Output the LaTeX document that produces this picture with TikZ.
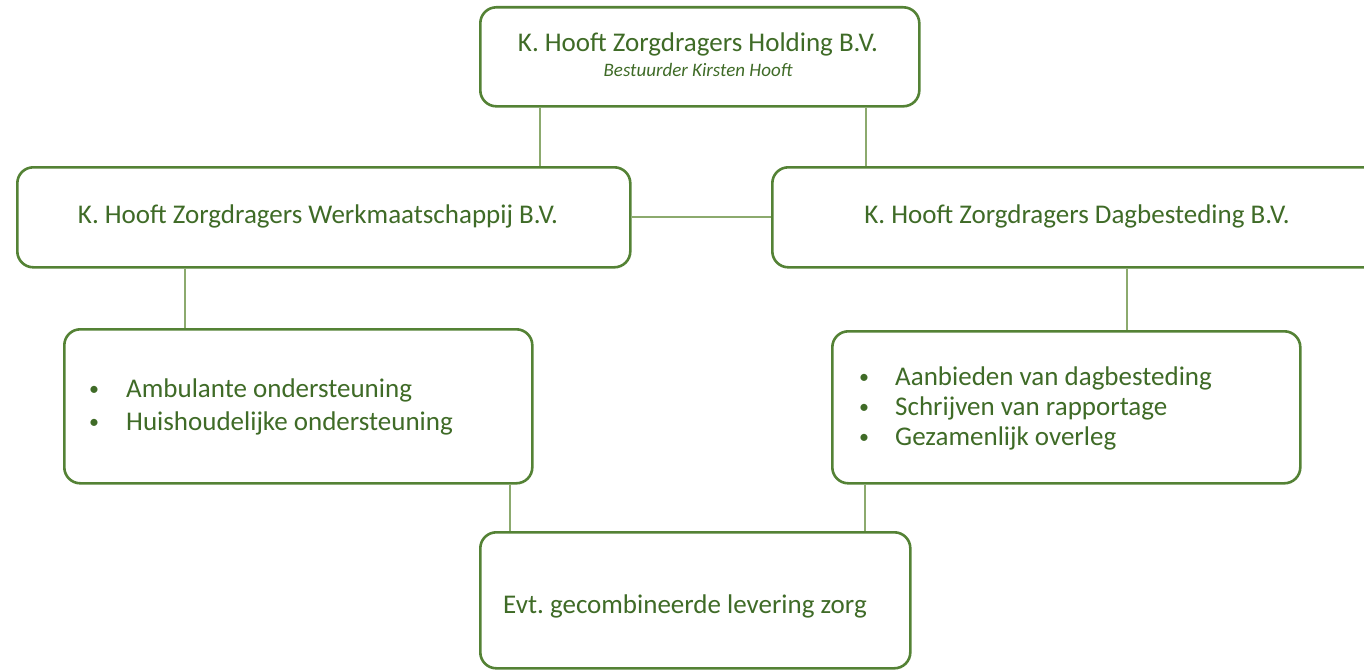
\documentclass[tikz,border=0pt]{standalone}
\usepackage{fontspec}
\setmainfont{Carlito}
\usetikzlibrary{backgrounds}
\definecolor{boxgreen}{HTML}{548235}
\definecolor{txtgreen}{HTML}{3F6B27}
\definecolor{linegreen}{HTML}{8CAA6E}
\frenchspacing
\begin{document}
\frenchspacing
\begin{tikzpicture}[x=1pt,y=-1pt,
  box/.style={draw=boxgreen, line width=2.6pt, rounded corners=16pt, fill=white, inner sep=0pt, anchor=north west},
  conn/.style={draw=linegreen, line width=1.8pt},
  lbl/.style={text=txtgreen, font=\fontsize{27}{31}\selectfont, inner sep=0pt},
  bul/.style={text=txtgreen, font=\fontsize{20}{24}\selectfont, inner sep=0pt},
  sub/.style={text=txtgreen, font=\fontsize{19}{22}\selectfont\itshape, inner sep=0pt}]
\useasboundingbox (0,0) rectangle (1364,669);
% boxes
\node[box, minimum width=439pt, minimum height=99pt] (top) at (479,6) {};
\node[box, minimum width=613pt, minimum height=100pt] (wm) at (16,166) {};
\node[box, minimum width=630pt, minimum height=100pt] (db) at (771,166) {};
\node[box, minimum width=468pt, minimum height=154pt] (wl) at (63,328) {};
\node[box, minimum width=468pt, minimum height=152pt] (dl) at (831,330) {};
\node[box, minimum width=430pt, minimum height=136pt] (ev) at (479,531) {};
% connectors
\begin{scope}[on background layer]
\draw[conn] ([xshift=61pt]top.south west) -- ([xshift=61pt]top.south west |- wm.north);
\draw[conn] ([xshift=-55pt]top.south east) -- ([xshift=-55pt]top.south east |- db.north);
\draw[conn] (wm.east) -- (db.west);
\draw[conn] ([xshift=169pt]wm.south west) -- ([xshift=169pt]wm.south west |- wl.north);
\draw[conn] ([xshift=356pt]db.south west) -- ([xshift=356pt]db.south west |- dl.north);
\draw[conn] ([xshift=-24pt]wl.south east) -- ([xshift=-24pt]wl.south east |- ev.north);
\draw[conn] ([xshift=34pt]dl.south west) -- ([xshift=34pt]dl.south west |- ev.north);
\end{scope}
% texts
\node[lbl, anchor=base] (t1) at (698,52) {K. Hooft Zorgdragers Holding B.V.};
\node[sub, anchor=base] (t2) at (698,77) {Bestuurder Kirsten Hooft};
\node[lbl, anchor=base] (t3) at (318,223) {K. Hooft Zorgdragers Werkmaatschappij B.V.};
\node[lbl, anchor=base] (t4) at (1077,223) {K. Hooft Zorgdragers Dagbesteding B.V.};
\node[bul, anchor=base west] (b1) at (89,395) {•};
\node[lbl, anchor=base west] (l1) at (126,397) {Ambulante ondersteuning};
\node[bul, anchor=base west] (b2) at (89,428) {•};
\node[lbl, anchor=base west] (l2) at (126,430) {Huishoudelijke ondersteuning};
\node[bul, anchor=base west] (b3) at (859,383) {•};
\node[lbl, anchor=base west] (r1) at (895,385) {Aanbieden van dagbesteding};
\node[bul, anchor=base west] (b4) at (859,413) {•};
\node[lbl, anchor=base west] (r2) at (895,415) {Schrijven van rapportage};
\node[bul, anchor=base west] (b5) at (859,443) {•};
\node[lbl, anchor=base west] (r3) at (895,445) {Gezamenlijk overleg};
\node[lbl, anchor=base west] (t5) at (503,613) {Evt. gecombineerde levering zorg};
\end{tikzpicture}
\end{document}
